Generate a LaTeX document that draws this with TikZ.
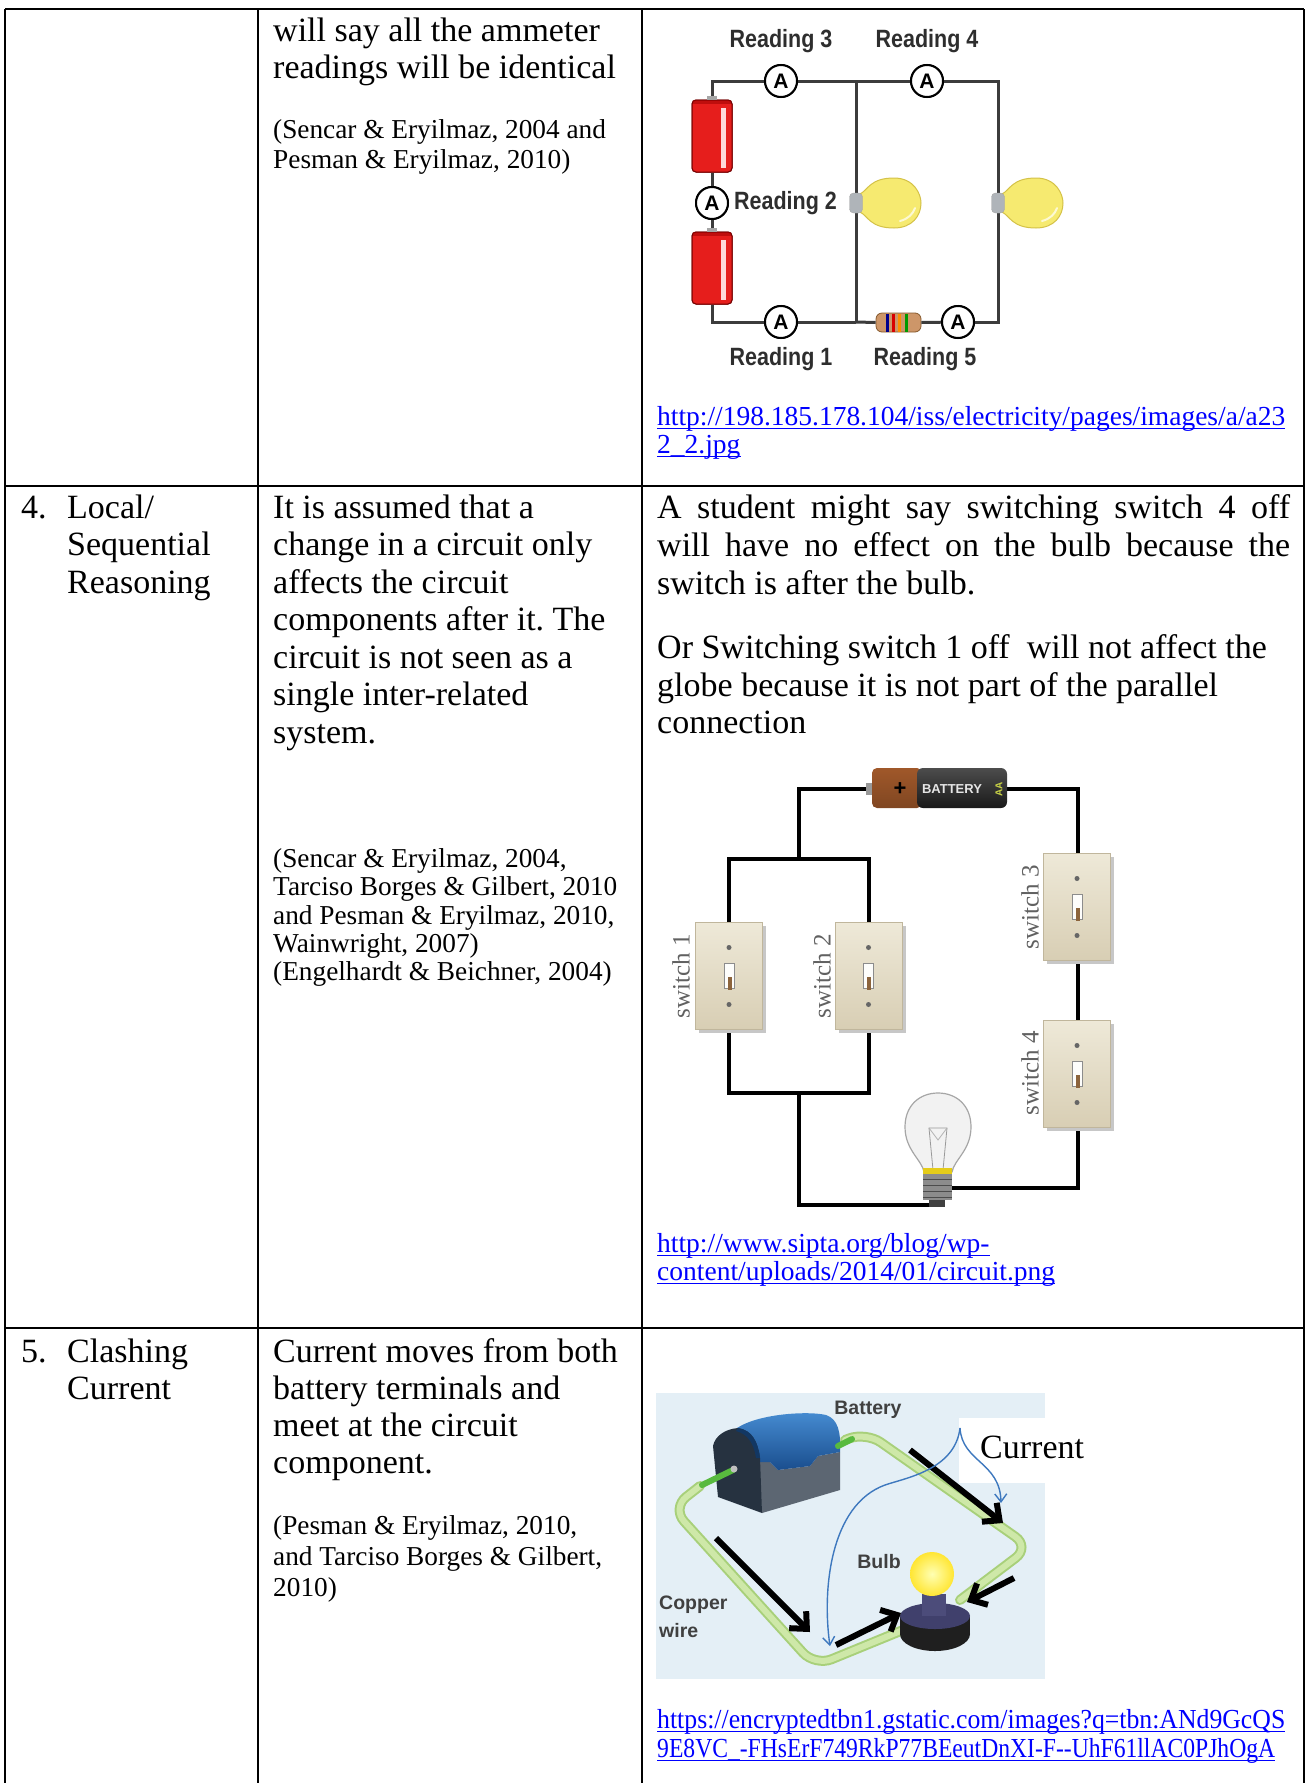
\documentclass[tikz,border=0pt]{standalone}
\usepackage{fontspec}
\setmainfont{Liberation Serif}
\newfontfamily\arialf{Liberation Sans}
\usetikzlibrary{arrows.meta,calc}
\frenchspacing
\definecolor{urlblue}{RGB}{0,0,255}
\definecolor{wireone}{RGB}{60,60,60}
\definecolor{battred}{RGB}{230,30,28}
\definecolor{bulbyel}{RGB}{246,234,112}
\definecolor{bulbedge}{RGB}{212,194,72}
\definecolor{sockgray}{RGB}{175,180,185}
\definecolor{resbody}{RGB}{205,150,105}
\definecolor{platelight}{RGB}{238,233,216}
\definecolor{platedark}{RGB}{216,206,180}
\definecolor{plateedge}{RGB}{192,182,156}
\definecolor{bgblue}{RGB}{228,239,246}
\definecolor{wiregreen}{RGB}{206,232,168}
\definecolor{wiregreend}{RGB}{168,208,122}
\definecolor{termgreen}{RGB}{88,186,62}
\definecolor{currblue}{RGB}{62,120,190}
\definecolor{copperdark}{RGB}{160,88,42}
\definecolor{copperlight}{RGB}{240,192,145}
\definecolor{aagreen}{RGB}{200,210,70}
\definecolor{leverbrown}{RGB}{140,100,60}
\definecolor{cyltop}{RGB}{70,140,210}
\definecolor{cylbot}{RGB}{26,78,142}
\definecolor{holderface}{RGB}{38,50,64}
\definecolor{holderside}{RGB}{92,102,114}
\newcommand\plateat[2]{%
  \fill[black!22] ($(#2)+(-30,-50)$) rectangle ($(#2)+(37,57)$);
  \node[plate] (#1) at (#2) {};
  \fill[black!60] ($(#2)+(0,-28)$) circle (2.5pt);
  \fill[black!60] ($(#2)+(0,29)$) circle (2.5pt);
  \draw[fill=white!90!platelight,draw=black!45,line width=0.8pt] ($(#2)+(-5,-12)$) rectangle ($(#2)+(5,13)$);
  \fill[leverbrown] ($(#2)+(-1.5,1)$) rectangle ($(#2)+(2.5,14)$);
}
\newcommand\urlnode[3]{%
  \node[U] (#1) at (#2) {#3};
  \draw[urlblue,line width=1.3pt] ([yshift=-3.5pt]#1.base west) -- ([yshift=-3.5pt]#1.base east);
}
\begin{document}
\begin{tikzpicture}[x=1pt,y=-1pt,
  T/.style={anchor=base west,inner sep=0pt,font=\fontsize{34}{37}\selectfont},
  S/.style={anchor=base west,inner sep=0pt,font=\fontsize{27.3}{30}\selectfont},
  U/.style={anchor=base west,inner sep=0pt,font=\fontsize{27.5}{30}\selectfont,text=urlblue},
  grid/.style={line width=2.5pt,black},
  wa/.style={line width=3pt,wireone},
  amm/.style={circle,draw=black,line width=2pt,fill=white,minimum size=32pt,inner sep=0pt,font=\arialf\bfseries\fontsize{21}{21}\selectfont},
  rd/.style={font=\arialf\bfseries\fontsize{25}{27}\selectfont,text=black!82,inner sep=0pt,xscale=0.86},
  cell/.style={rectangle,draw=red!45!black,line width=1pt,fill=battred,rounded corners=4pt,minimum width=40pt,minimum height=72pt,inner sep=0pt},
  wb/.style={line width=4pt,black},
  plate/.style={rectangle,draw=plateedge,line width=1pt,top color=platelight,bottom color=platedark,minimum width=67pt,minimum height=107pt,inner sep=0pt},
  swl/.style={font=\fontsize{25}{25}\selectfont,text=black!62,rotate=90,inner sep=0pt},
  garr/.style={line width=6pt,black,-{Straight Barb[length=13pt,width=24pt]}},
  barr/.style={line width=1.4pt,currblue,-{Straight Barb[length=8pt,width=12pt]}},
  lab/.style={font=\arialf\bfseries\fontsize{19.5}{22}\selectfont,text=black!75,inner sep=0pt}
]
\useasboundingbox (0,0) rectangle (1306,1783);

% ---------------- table grid ----------------
\draw[grid] (5,9) -- (1304,9);
\draw[grid] (5,486) -- (1304,486);
\draw[grid] (5,1328) -- (1304,1328);
\draw[grid] (5,9) -- (5,1783);
\draw[grid] (258,9) -- (258,1783);
\draw[grid] (642,9) -- (642,1783);
\draw[grid] (1304,9) -- (1304,1783);

% ---------------- row 1 text ----------------
\node[T] (t1a) at (273,41) {will say all the ammeter};
\node[T] (t1b) at (273,78) {readings will be identical};
\node[S] (t1c) at (273,138) {(Sencar \& Eryilmaz, 2004 and};
\node[S] (t1d) at (273,168) {Pesman \& Eryilmaz, 2010)};

% ---------------- circuit 1 ----------------
\coordinate (tl) at (712,81);
\coordinate (tm) at (856,81);
\coordinate (tr) at (998,81);
\coordinate (bl) at (712,322);
\coordinate (bm) at (856,322);
\coordinate (br) at (998,322);
\node[amm] (r3) at (781,81) {A};
\node[amm] (r4) at (927,81) {A};
\node[amm] (r1) at (781,322) {A};
\node[amm] (r5) at (958,322) {A};
\node[amm] (r2) at (712,203) {A};
\node[cell] (c1) at (712,136) {};
\node[cell] (c2) at (712,268) {};
\draw[wa] (c1.north) -- (tl) -- (r3);
\draw[wa] (r3) -- (r4);
\draw[wa] (r4) -- (tr) -- (br) -- (r5);
\draw[wa] (tm) -- (bm);
\draw[wa] (bm) -- (r1);
\draw[wa] (r1) -- (bl) -- (c2.south);
\draw[wa] (c1.south) -- (r2);
\draw[wa] (r2) -- (c2.north);
% redraw ammeters & cells on top
\node[amm] at (r3) {A};
\node[amm] at (r4) {A};
\node[amm] at (r1) {A};
\node[amm] at (r2) {A};
\foreach \cy in {136,268}{
  \node[cell] at (712,\cy) {};
  \fill[red!60!black,opacity=0.5] (693,\cy-36) rectangle (731,\cy-32);
  \fill[white!85!red] (721,\cy-28) rectangle (726,\cy+32);
  \fill[black!35] (707,\cy-40) rectangle (717,\cy-36);
}
% resistor
\node[rectangle,rounded corners=6pt,draw=brown!70!black,line width=0.8pt,fill=resbody,minimum width=45pt,minimum height=19pt,inner sep=0pt] (res) at (898.5,322.5) {};
\draw[wa] (bm) -- (res.west);
\draw[wa] (res.east) -- (r5);
\node[amm] at (r5) {A};
\fill[blue!55!black] (886,313.5) rectangle (889,331.5);
\fill[red!85!black] (892,313.5) rectangle (895,331.5);
\fill[orange!90!yellow] (898,313.5) rectangle (901,331.5);
\fill[green!60!black] (905,313.5) rectangle (908,331.5);
% bulbs
\foreach \bx/\nm in {856/bulbA,998/bulbB}{
  \draw[fill=bulbyel,draw=bulbedge,line width=1pt] (\bx+4,194) .. controls (\bx+12,190) and (\bx+14,178) .. (\bx+38,178) .. controls (\bx+58,178) and (\bx+65,194) .. (\bx+65,203) .. controls (\bx+65,216) and (\bx+56,228) .. (\bx+38,228) .. controls (\bx+14,228) and (\bx+12,216) .. (\bx+4,212) -- cycle;
  \draw[white!70!bulbyel,line width=2pt,line cap=round] (\bx+44,221) .. controls (\bx+52,219) and (\bx+57,214) .. (\bx+59,208);
  \node[rectangle,rounded corners=4pt,draw=black!35,fill=sockgray,minimum width=13pt,minimum height=20pt,inner sep=0pt] (\nm) at (\bx,203) {};
}
\node[rd,anchor=center] (l3) at (781,41) {Reading 3};
\node[rd,anchor=center] (l4) at (927,41) {Reading 4};
\node[rd,anchor=west] (l2) at (734,203) {Reading 2};
\node[rd,anchor=center] (l1) at (781,359) {Reading 1};
\node[rd,anchor=center] (l5) at (925,359) {Reading 5};
\urlnode{u1}{657,425}{\resizebox{628pt}{\height}{http://198.185.178.104/iss/electricity/pages/images/a/a23}}
\urlnode{u2}{657,453}{2\_2.jpg}

% ---------------- row 2 text ----------------
\node[T] (n4) at (21,518) {4.};
\node[T] (k1) at (67,518) {Local/};
\node[T] (k2) at (67,555.5) {Sequential};
\node[T] (k3) at (67,593) {Reasoning};
\node[T] (d1) at (273,518) {It is assumed that a};
\node[T] (d2) at (273,555.5) {change in a circuit only};
\node[T] (d3) at (273,593) {affects the circuit};
\node[T] (d4) at (273,630.5) {components after it. The};
\node[T] (d5) at (273,668) {circuit is not seen as a};
\node[T] (d6) at (273,705.5) {single inter-related};
\node[T] (d7) at (273,743) {system.};
\node[S] (e1) at (273,867) {(Sencar \& Eryilmaz, 2004,};
\node[S] (e2) at (273,895.5) {Tarciso Borges \& Gilbert, 2010};
\node[S] (e3) at (273,924) {and Pesman \& Eryilmaz, 2010,};
\node[S] (e4) at (273,952) {Wainwright, 2007)};
\node[S] (e5) at (273,980) {(Engelhardt \& Beichner, 2004)};
\node[T] (f1) at (657,518) {\makebox[633pt][s]{A student might say switching switch 4 off}};
\node[T] (f2) at (657,556) {\makebox[633pt][s]{will have no effect on the bulb because the}};
\node[T] (f3) at (657,594) {switch is after the bulb.};
\node[T] (f4) at (657,658) {Or Switching switch 1 off\ \ will not affect the};
\node[T] (f5) at (657,696) {globe because it is not part of the parallel};
\node[T] (f6) at (657,733) {connection};

% ---------------- circuit 2 ----------------
\coordinate (bL) at (870,789);
\coordinate (bR) at (1007,789);
\coordinate (jT) at (799,859);
\coordinate (jB) at (799,1093);
\coordinate (s1c) at (729,975.5);
\coordinate (s2c) at (868.5,975.5);
\coordinate (s3c) at (1077,906.5);
\coordinate (s4c) at (1077,1073.5);
\coordinate (lampTip) at (937,1205);
\coordinate (lampSide) at (952,1188);
\draw[wb] (bR) -- (1078,789) -- (1078,853);
\draw[wb] (1078,960) -- (1078,1020);
\draw[wb] (1078,1127) -- (1078,1188) -- (lampSide);
\draw[wb] (bL) -- (799,789) -- (jT);
\draw[wb] (729,922) -- (729,859) -- (868.5,859) -- (868.5,922);
\draw[wb] (729,1029) -- (729,1093) -- (868.5,1093) -- (868.5,1029);
\draw[wb] (jB) -- (799,1205) -- (lampTip);
\plateat{sw1}{s1c}
\plateat{sw2}{s2c}
\plateat{sw3}{s3c}
\plateat{sw4}{s4c}
\node[swl] (sl1) at (681,976) {switch 1};
\node[swl] (sl2) at (822,976) {switch 2};
\node[swl] (sl3) at (1030,907) {switch 3};
\node[swl] (sl4) at (1030,1073) {switch 4};
% battery AA
\fill[black!40] (866,783) rectangle (874,795);
\shade[top color=copperdark,middle color=copperlight,bottom color=copperdark!80!black,rounded corners=5pt] (872,768) rectangle (922,808);
\shade[top color=black!70,middle color=black!45,bottom color=black!90,rounded corners=6pt] (917,768) rectangle (1007,808);
\node[font=\arialf\bfseries\fontsize{22}{22}\selectfont,inner sep=0pt] (bplus) at (900,789) {+};
\node[font=\arialf\bfseries\fontsize{13}{13}\selectfont,text=white!90!black,inner sep=0pt] (btxt) at (952,789) {BATTERY};
\node[font=\arialf\bfseries\fontsize{10}{10}\selectfont,text=aagreen,rotate=90,inner sep=0pt] (baa) at (999,789) {AA};
% light bulb
\draw[fill=black!5,draw=black!35,line width=1.2pt] (924,1172) .. controls (922,1160) and (905,1150) .. (905,1127) .. controls (905,1105) and (920,1093) .. (938,1093) .. controls (956,1093) and (971,1105) .. (971,1127) .. controls (971,1150) and (954,1160) .. (952,1172) -- cycle;
\draw[black!40,line width=0.8pt] (933,1170) -- (929,1128) -- (947,1128) -- (943,1170);
\draw[black!30,line width=0.8pt] (929,1128) -- (938,1140) -- (947,1128);
\fill[brown!40!yellow] (923,1168) rectangle (952,1174);
\fill[black!45] (923,1174) rectangle (952,1200);
\foreach \ry in {1179,1185,1191,1197}{\draw[black!70,line width=1pt] (923,\ry) -- (952,\ry);}
\fill[black!75] (929,1200) rectangle (945,1207);
\urlnode{u3}{657,1252}{http://www.sipta.org/blog/wp-}
\urlnode{u4}{657,1280}{content/uploads/2014/01/circuit.png}

% ---------------- row 3 text ----------------
\node[T] (n5) at (21,1362) {5.};
\node[T] (m1) at (67,1362) {Clashing};
\node[T] (m2) at (67,1399) {Current};
\node[T] (g1) at (273,1362) {Current moves from both};
\node[T] (g2) at (273,1399) {battery terminals and};
\node[T] (g3) at (273,1436) {meet at the circuit};
\node[T] (g4) at (273,1473) {component.};
\node[S] (h1) at (273,1534) {(Pesman \& Eryilmaz, 2010,};
\node[S] (h2) at (273,1565) {and Tarciso Borges \& Gilbert,};
\node[S] (h3) at (273,1596) {2010)};

% ---------------- circuit 3 ----------------
\fill[bgblue] (656,1393) rectangle (1045,1679);
\fill[white] (959,1418) rectangle (1046,1483);
% wire loop
\draw[wiregreend,line width=10pt,rounded corners=18pt,line cap=round] (845,1440) -- (866,1432) -- (1030,1547) -- (960,1600);
\draw[wiregreen,line width=6pt,rounded corners=18pt,line cap=round] (845,1440) -- (866,1432) -- (1030,1547) -- (960,1600);
\draw[wiregreend,line width=10pt,rounded corners=18pt,line cap=round] (700,1486) -- (672,1508) -- (815,1666) -- (903,1630);
\draw[wiregreen,line width=6pt,rounded corners=18pt,line cap=round] (700,1486) -- (672,1508) -- (815,1666) -- (903,1630);
% battery block
\fill[holderside] (757,1462) -- (770,1462) -- (778,1470) -- (810,1466) -- (818,1456) -- (840,1452) -- (840,1490) -- (762,1513) -- cycle;
\shade[top color=cyltop,bottom color=cylbot] (737,1428) .. controls (760,1413) and (810,1411) .. (826,1415) .. controls (838,1419) and (841,1432) .. (840,1452) -- (818,1456) -- (810,1466) -- (778,1470) -- (770,1462) -- (757,1462) -- cycle;
\fill[holderface] (713,1446) .. controls (715,1436) and (725,1429) .. (738,1428) .. controls (752,1430) and (758,1442) .. (760,1458) -- (762,1513) -- (718,1497) -- cycle;
\fill[cylbot!70!black] (738,1428) .. controls (752,1430) and (758,1442) .. (760,1458) -- (756,1458) .. controls (754,1444) and (748,1434) .. (736,1431) -- cycle;
\draw[termgreen,line width=6pt,line cap=round] (733,1470) -- (702,1485);
\draw[termgreen,line width=6pt,line cap=round] (838,1446) -- (852,1439);
\fill[black!25] (734,1469) circle (3.5pt);
\node[lab] (blab) at (868,1410) {Battery};
% bulb
\fill[black!88] (935,1634) ellipse [x radius=35pt,y radius=17pt];
\fill[black!88] (900,1616) rectangle (970,1634);
\fill[black!65!blue!50!gray] (935,1616) ellipse [x radius=35pt,y radius=13pt];
\fill[black!55!blue!40!gray] (922,1594) rectangle (946,1616);
\shade[inner color=white!70!yellow,outer color=yellow!75!orange!80!white] (932,1574) circle (22pt);
\node[lab] (bulblab) at (879,1562) {Bulb};
\node[lab,anchor=west] (cw1) at (659,1605) {Copper};
\node[lab,anchor=west] (cw2) at (659,1631) {wire};
% arrows
\coordinate (a1s) at (910,1450); \coordinate (a1e) at (1003,1523);
\coordinate (a2s) at (716,1538); \coordinate (a2e) at (810,1632);
\coordinate (a3s) at (836,1645); \coordinate (a3e) at (901,1613);
\coordinate (a4s) at (1014,1578); \coordinate (a4e) at (967,1602);
\draw[garr] (a1s) -- (a1e);
\draw[garr] (a2s) -- (a2e);
\draw[garr] (a3s) -- (a3e);
\draw[garr] (a4s) -- (a4e);
\node[T] (curlab) at (980,1458) {Current};
\coordinate (cs) at (960,1428);
\coordinate (ce1) at (830,1646);
\coordinate (ce2) at (1001,1503);
\draw[barr] (cs) .. controls (955,1470) and (905,1478) .. (885,1485) .. controls (830,1505) and (822,1590) .. (ce1);
\draw[barr] (cs) .. controls (962,1462) and (1000,1462) .. (ce2);
\urlnode{u5}{657,1728}{\resizebox{628pt}{\height}{https://encryptedtbn1.gstatic.com/images?q=tbn:ANd9GcQS}}
\urlnode{u6}{657,1757}{\resizebox{618pt}{\height}{9E8VC\_-FHsErF749RkP77BEeutDnXI-F-{}-UhF61llAC0PJhOgA}}
\end{tikzpicture}
\end{document}
